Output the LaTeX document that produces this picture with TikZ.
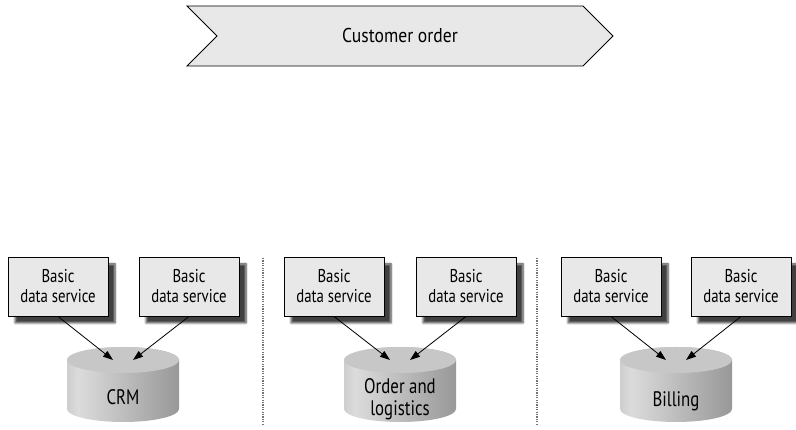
\documentclass[tikz,border=0pt]{standalone}
\usepackage{fontspec}
\setmainfont{PT Sans}
\usepackage{tikz}
\usetikzlibrary{shapes,calc,positioning,arrows.meta,shadows.blur}

\pgfdeclarehorizontalshading{cylbody}{100bp}{color(0bp)=(black!45); color(30bp)=(black!14); color(100bp)=(black!55)}

\begin{document}
\begin{tikzpicture}[x=1pt,y=1pt,
  svcbox/.style={draw=black, line width=0.9pt, fill=black!9, minimum width=100pt, minimum height=59pt,
    inner sep=0pt, align=center, font=\fontsize{18.5}{20}\selectfont\addfontfeature{FakeStretch=0.8},
    blur shadow={shadow xshift=7pt, shadow yshift=-7pt, shadow blur steps=6, shadow opacity=75}},
  feed/.style={-{Triangle[length=10pt,width=7pt]}, line width=0.8pt},
  dbtext/.style={align=center, anchor=base, font=\fontsize{21}{22}\selectfont\addfontfeature{FakeStretch=0.8}},
  sep/.style={dash pattern=on 1.2pt off 1.2pt, line width=1.4pt, black!55}]
\useasboundingbox (0,0) rectangle (796,430);

% Process chevron
\node[signal, signal to=east, signal from=west, draw, line width=0.8pt, fill=black!9,
  minimum width=426pt, minimum height=60pt,
  font=\fontsize{20}{22}\selectfont\addfontfeature{FakeStretch=0.88}] (order) at (400,394) {Customer order};

% Column separators
\draw[sep] (263,172) -- (263,5);
\draw[sep] (537,172) -- (537,5);

% CRM column
\shade[shading=cylbody] (67,70) -- (67,21) arc[start angle=180, end angle=360, x radius=56, y radius=13]
  -- (179,70) arc[start angle=0, end angle=180, x radius=56, y radius=13] -- cycle;
\fill[black!22] (123,70) ellipse (56 and 13);
\coordinate (crmtop) at (123,70);
\node[dbtext] (crm) at (123,25) {CRM};
\node[svcbox] (crma) at (58,143.5) {Basic\\data service};
\node[svcbox] (crmb) at (189,143.5) {Basic\\data service};
\draw[feed] (crma.south) -- ([xshift=-10pt]crmtop);
\draw[feed] (crmb.south) -- ([xshift=10pt]crmtop);

% Order and logistics column
\shade[shading=cylbody] (344,70) -- (344,21) arc[start angle=180, end angle=360, x radius=56, y radius=13]
  -- (456,70) arc[start angle=0, end angle=180, x radius=56, y radius=13] -- cycle;
\fill[black!22] (400,70) ellipse (56 and 13);
\coordinate (ordtop) at (400,70);
\node[dbtext] (ord) at (400,14) {Order and\\logistics};
\node[svcbox] (orda) at (334,143.5) {Basic\\data service};
\node[svcbox] (ordb) at (466,143.5) {Basic\\data service};
\draw[feed] (orda.south) -- ([xshift=-10pt]ordtop);
\draw[feed] (ordb.south) -- ([xshift=10pt]ordtop);

% Billing column
\shade[shading=cylbody] (620,70) -- (620,21) arc[start angle=180, end angle=360, x radius=56, y radius=13]
  -- (732,70) arc[start angle=0, end angle=180, x radius=56, y radius=13] -- cycle;
\fill[black!22] (676,70) ellipse (56 and 13);
\coordinate (billtop) at (676,70);
\node[dbtext] (bill) at (676,23) {Billing};
\node[svcbox] (billa) at (611,143.5) {Basic\\data service};
\node[svcbox] (billb) at (741,143.5) {Basic\\data service};
\draw[feed] (billa.south) -- ([xshift=-10pt]billtop);
\draw[feed] (billb.south) -- ([xshift=10pt]billtop);
\end{tikzpicture}
\end{document}
